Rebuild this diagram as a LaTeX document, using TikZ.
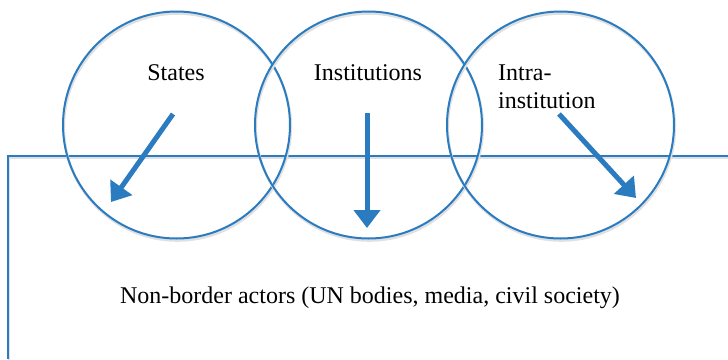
\documentclass[tikz,border=0pt]{standalone}
\usepackage{fontspec}
\setmainfont{Liberation Serif}
\usetikzlibrary{arrows.meta,positioning,calc}
\tikzset{%
  ring/.style={circle,draw=ringblue,line width=2pt,minimum size=227pt,inner sep=0pt,
    preaction={draw=black!12,line width=2.6pt,transform canvas={shift={(0.8pt,-2pt)}}}},
  frameline/.style={draw=ringblue,line width=2pt,
    preaction={draw=black!12,line width=2.6pt,transform canvas={shift={(0.8pt,-2pt)}}}},
  push/.style={draw=ringblue,line width=5pt,-{Triangle[length=18pt,width=26pt]}},
  lbl/.style={font=\fontsize{24}{28}\selectfont,inner sep=0pt}
}

\begin{document}
\begin{tikzpicture}[x=1pt,y=-1pt]
% ---- colors ----
\definecolor{ringblue}{HTML}{2B7BC0}

\useasboundingbox (0,0) rectangle (728,359);

% ===================== outer frame (open to the right and bottom) =====================
\coordinate (frame-ne) at (728,156);
\coordinate (frame-nw) at (8,156);
\coordinate (frame-sw) at (8,359);
\draw[frameline] (frame-ne) -- (frame-nw) -- (frame-sw);
\node[lbl,anchor=base] (actors) at (370,303) {Non-border actors (UN bodies, media, civil society)};

% ===================== three circles =====================
\node[ring] (states) at (176.5,125) {};
\node[ring] (inst)   at (368.5,125) {};
\node[ring] (intra)  at (560.5,125) {};

\node[lbl,anchor=base] (states-t) at (176,80) {States};
\node[lbl,anchor=base] (inst-t)   at (368,80) {Institutions};
\node[lbl,anchor=base west] (intra-t)  at (498,80) {Intra-};
\node[lbl,anchor=base west] (intra-t2) at (498,108) {institution};

% ---- arrows into the frame ----
\coordinate (states-a) at (173,114);
\coordinate (states-b) at (111,202);
\coordinate (inst-a)   at (367,113);
\coordinate (inst-b)   at (367,228);
\coordinate (intra-a)  at (559,114);
\coordinate (intra-b)  at (636,198);
\draw[push] (states-a) -- (states-b);
\draw[push] (inst-a) -- (inst-b);
\draw[push] (intra-a) -- (intra-b);

\end{tikzpicture}
\end{document}
